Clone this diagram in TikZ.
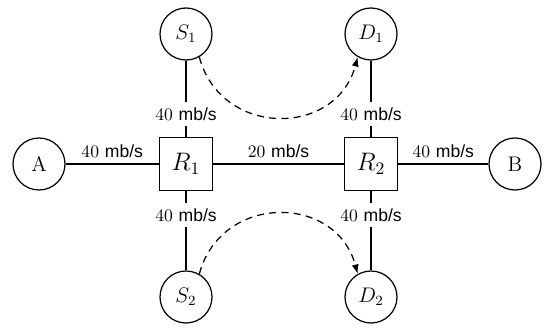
\documentclass[tikz,border=0pt]{standalone}
\usepackage{fontspec}
\setsansfont{Liberation Sans}
\usetikzlibrary{arrows.meta}
\tikzset{>={Latex[length=1.9mm, width=1.4mm]}}
\newcommand{\mbps}[1]{#1 \textsf{mb/s}}

\begin{document}
\begin{tikzpicture}[line width=.7pt,
    host/.style={draw, circle, minimum size=1.04cm, inner sep=0pt, font=\large},
    router/.style={draw, minimum size=1.06cm, inner sep=0pt, font=\Large},
    rate/.style={fill=white, inner sep=3pt}]
    \useasboundingbox (0, 0) rectangle (10.98, 6.56);
    \node[host] (A) at (0.78, 3.28) {A};
    \node[router] (R1) at (3.72, 3.28) {$R_1$};
    \node[router] (R2) at (7.42, 3.28) {$R_2$};
    \node[host] (B) at (10.30, 3.28) {B};
    \node[host] (S1) at (3.72, 5.88) {$S_1$};
    \node[host] (D1) at (7.42, 5.88) {$D_1$};
    \node[host] (S2) at (3.72, 0.62) {$S_2$};
    \node[host] (D2) at (7.42, 0.62) {$D_2$};
    \draw(A)--node[above]{\mbps{40}}(R1)--node[above]{\mbps{20}}(R2)--node[above]{\mbps{40}}(B);
    \draw(S1)--node[rate, pos=.7]{\mbps{40}}(R1)--node[rate, pos=.3]{\mbps{40}}(S2);
    \draw(D1)--node[rate, pos=.7]{\mbps{40}}(R2)--node[rate, pos=.3]{\mbps{40}}(D2);
    \draw[dash pattern=on 4pt off 3pt, ->](S1.-60)to[out=-75, in=-105, looseness=1.35](D1.-120);
    \draw[dash pattern=on 4pt off 3pt, ->](S2.60)to[out=75, in=105, looseness=1.35](D2.120);
\end{tikzpicture}
\end{document}
